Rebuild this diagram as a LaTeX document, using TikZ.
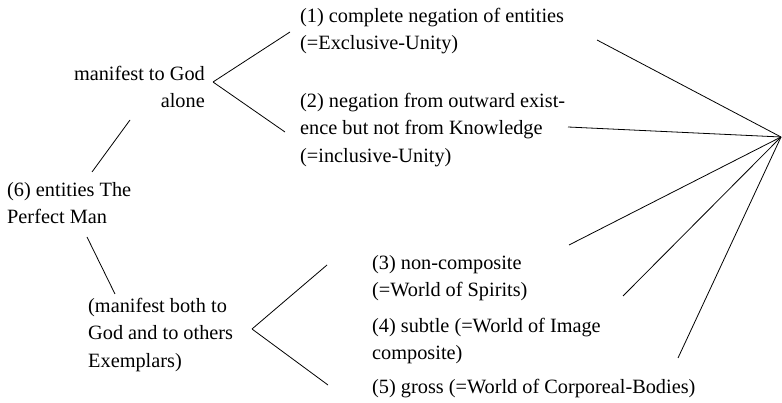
\documentclass[tikz,border=0pt]{standalone}
\usepackage{fontspec}
\setmainfont{Liberation Serif}
\usetikzlibrary{calc}

\begin{document}
\begin{tikzpicture}[x=1pt, y=-1pt,
    txt/.style={inner sep=0pt, align=left, font=\fontsize{20.3}{27.5}\selectfont},
    branch/.style={line width=0.8pt}]
    \useasboundingbox (0,0) rectangle (782,403);
    % texts
    \node[txt, anchor=west] (n1) at (300,31) {(1) complete negation of entities\\(=Exclusive-Unity)};
    \node[txt, anchor=west] (n2) at (300,130) {(2) negation from outward exist-\\ence but not from Knowledge\\(=inclusive-Unity)};
    \node[txt, anchor=east, align=right] (god) at (205,87) {manifest to God\\alone};
    \node[txt, anchor=west] (n6) at (7,203) {(6) entities The\\Perfect Man};
    \node[txt, anchor=west] (both) at (88,335) {(manifest both to\\God and to others\\Exemplars)};
    \node[txt, anchor=west] (n3) at (372,278) {(3) non-composite\\(=World of Spirits)};
    \node[txt, anchor=west] (n4) at (372,341) {(4) subtle (=World of Image\\composite)};
    \node[txt, anchor=west] (n5) at (372,389) {(5) gross (=World of Corporeal-Bodies)};
    % meeting points
    \coordinate (hub) at (781,137);
    \coordinate (forkup) at ($(god.east)+(8,-5)$);
    \coordinate (forklow) at ($(both.west)+(164,-6)$);
    % upper fork
    \draw[branch] (forkup) -- ($(n1.west)+(-10,1)$);
    \draw[branch] (forkup) -- ($(n2.west)+(-15,2)$);
    % left chain
    \draw[branch] ($(god.east)+(-75,33)$) -- ($(n6.west)+(85,-31)$);
    \draw[branch] ($(n6.west)+(80,34)$) -- ($(both.west)+(27,-41)$);
    % lower fork
    \draw[branch] (forklow) -- ($(n3.west)+(-45,-13)$);
    \draw[branch] (forklow) -- ($(n5.west)+(-44,-4)$);
    % rays to the right
    \draw[branch] (hub) -- ($(n1.west)+(297,9)$);
    \draw[branch] (hub) -- ($(n2.west)+(268,-3)$);
    \draw[branch] (hub) -- ($(n3.west)+(197,-33)$);
    \draw[branch] (hub) -- ($(n4.west)+(251,-45)$);
    \draw[branch] (hub) -- ($(n5.west)+(306,-31)$);
\end{tikzpicture}
\end{document}
